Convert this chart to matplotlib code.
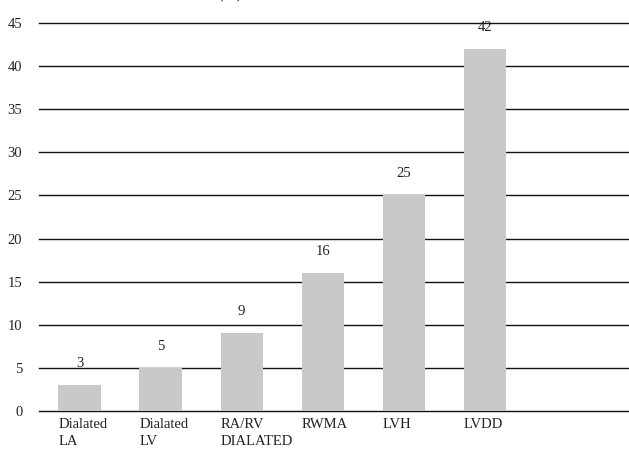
import matplotlib
matplotlib.use("Agg")
import matplotlib.pyplot as plt
import numpy as np

# Echo findings, count of patients
categories = ["Dialated\nLA", "Dialated\nLV", "RA/RV\nDIALATED", "RWMA", "LVH", "LVDD"]
counts = [3, 5, 9, 16, 25, 42]
yticks = [0, 5, 10, 15, 20, 25, 30, 35, 40, 45]

plt.rcParams['font.family'] = ['Liberation Serif', 'DejaVu Serif']

fig = plt.figure(figsize=(6.29, 4.55), dpi=100)
ax = fig.add_axes([39 / 629, 1 - 411 / 455, 1 - 39 / 629, 388 / 455])

x = np.arange(len(categories))
width = 0.52
ax.bar(x, counts, width=width, color="#c8c9ca", zorder=2)

for xi, v in zip(x, counts):
    ax.text(xi, v + 2.5, str(v), ha="center", va="center", fontsize=10.5, color="#222222")

ax.set_ylim(0, 45)
ax.set_xlim(-0.5, 6.78)
ax.set_yticks(yticks)
ax.yaxis.grid(True, color="#111111", linewidth=1.0, zorder=1)
for gl in ax.get_ygridlines():
    gl.set_clip_on(False)
ax.set_axisbelow(True)
ax.tick_params(axis="y", length=0, pad=12, labelsize=10.5, labelcolor="#222222")
ax.set_xticks([])
for s in ax.spines.values():
    s.set_visible(False)

# category labels, left-aligned under each bar
for xi, lab in zip(x, categories):
    ax.text(xi - width / 2, -0.8, lab, ha="left", va="top", fontsize=10.5,
            color="#222222", linespacing=1.45)

fig.text(230 / 629, 1.012, "(%)", ha="center", va="center", fontsize=12, color="#222222")

fig.savefig("out.png", dpi=100)
